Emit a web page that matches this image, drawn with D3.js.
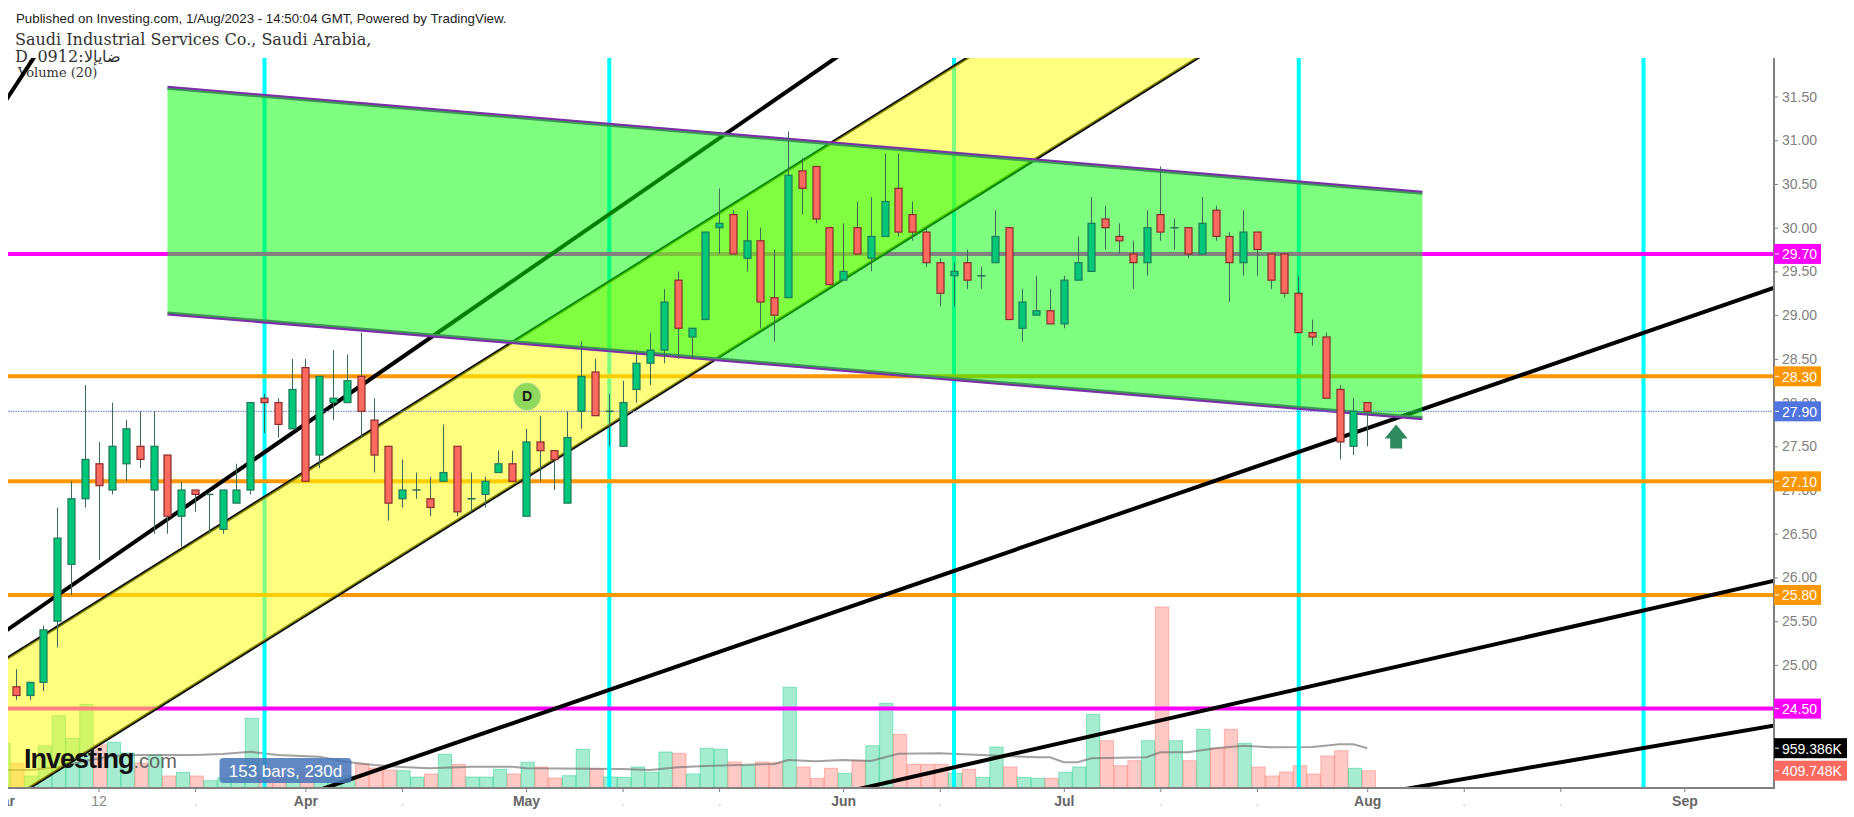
<!DOCTYPE html>
<html>
<head>
<meta charset="utf-8">
<title>Saudi Industrial Services Co.</title>
<script src="https://cdn.jsdelivr.net/npm/d3@7"></script>
<style>
	html, body { margin: 0; padding: 0; background: #fff; overflow: hidden; }
	svg { display: block; }
	text { font-family: "Liberation Sans", Arial, sans-serif; }
</style>
</head>
<body>
<div id="chart-area"></div>
<script>
// SVG size
let width = 1854,
	height = 817;

// candles, one entry per daily bar
const opens = [24.75,24.65,24.8,25.5,26.15,26.9,27.3,27.0,27.3,27.5,27.0,27.4,26.7,27.0,26.95,26.55,26.85,27.0,28.05,28.0,
	27.7,28.4,27.4,28.0,28.0,28.3,27.8,27.5,26.9,27.0,26.9,27.1,27.5,26.9,26.95,27.2,27.3,26.7,27.55,27.45,
	26.85,27.9,28.35,27.9,27.5,28.15,28.45,28.6,29.4,28.75,28.95,30.0,30.15,29.65,29.85,29.2,29.2,30.65,30.7,30.0,
	29.4,30.0,29.65,29.9,30.45,30.15,29.95,29.6,29.45,29.6,29.45,29.6,30.0,28.85,29.0,29.05,28.9,29.4,29.5,30.1,
	29.9,29.7,29.6,30.15,30.0,30.0,29.7,30.2,29.9,29.6,29.95,29.7,29.7,29.25,28.8,28.75,28.15,27.5,28.0];
const highs = [24.95,24.8,25.45,26.8,27.1,28.2,27.55,28.0,27.8,27.9,27.9,27.4,27.1,27.0,26.95,27.0,27.3,28.0,28.1,28.05,
	28.5,28.5,28.3,28.6,28.55,28.8,28.05,27.5,27.35,27.2,27.15,27.75,27.5,27.2,27.15,27.45,27.45,27.7,27.85,27.45,
	27.9,28.7,28.5,28.1,28.25,28.6,28.8,29.3,29.5,28.85,29.95,30.45,30.2,30.2,30.0,29.75,31.1,30.8,30.7,30.0,
	30.05,30.3,30.35,30.85,30.85,30.3,30.0,29.65,29.6,29.75,29.55,30.2,30.0,29.3,29.45,29.3,29.45,29.9,30.35,30.25,
	30.05,29.85,30.2,30.7,30.1,30.0,30.35,30.25,29.95,30.2,29.95,29.7,29.7,29.45,28.95,28.8,28.2,28.05,28.0];
const lows = [24.6,24.6,24.7,25.2,25.8,26.8,26.2,26.95,27.1,27.25,26.5,26.5,26.35,26.75,26.5,26.5,26.85,26.95,27.65,27.6,
	27.7,27.1,27.25,27.8,28.0,27.6,27.2,26.65,26.8,26.9,26.7,27.1,26.7,26.75,26.8,27.2,27.1,26.7,27.1,27.0,
	26.85,27.7,27.85,27.5,27.5,28.0,28.2,28.45,28.5,28.5,28.95,29.7,29.7,29.5,28.85,28.7,29.2,30.15,30.05,29.35,
	29.4,29.7,29.5,29.9,29.9,29.85,29.55,29.1,29.1,29.3,29.3,29.6,28.95,28.7,29.0,28.9,28.85,29.4,29.5,29.75,
	29.7,29.3,29.45,29.85,29.75,29.65,29.7,29.85,29.15,29.45,29.45,29.3,29.2,28.8,28.65,28.05,27.35,27.4,27.5];
const closes = [24.65,24.8,25.4,26.45,26.9,27.35,27.05,27.5,27.7,27.35,27.5,26.7,27.0,26.95,26.95,27.0,27.0,28.0,28.0,27.75,
	28.15,27.1,28.3,28.05,28.25,27.9,27.4,26.85,27.0,27.0,26.8,27.2,26.75,26.9,27.1,27.3,27.1,27.55,27.45,27.35,
	27.6,28.3,27.85,27.9,28.0,28.45,28.6,29.15,28.85,28.85,29.95,30.05,29.7,29.85,29.15,29.0,30.6,30.45,30.1,29.35,
	29.5,29.7,29.9,30.3,29.95,29.95,29.6,29.25,29.5,29.4,29.45,29.9,28.95,29.15,29.05,28.9,29.4,29.6,30.05,30.0,
	29.85,29.6,30.0,29.95,30.0,29.7,30.05,29.9,29.6,29.95,29.75,29.4,29.25,28.8,28.75,28.05,27.55,27.9,27.9];

// volume in thousands, the first one belongs to the bar just left of the plot
const volumes = [1078,590,281,1020,1752,1200,2030,1037,1103,842,598,793,281,371,281,166,232,305,1688,305,
	305,281,378,329,305,281,573,476,427,410,256,329,810,566,256,256,444,329,615,500,
	232,288,932,459,256,249,500,371,866,834,329,956,932,622,532,622,605,2445,500,224,
	468,346,664,1020,2054,1298,566,566,566,346,444,249,988,500,249,224,224,371,500,1786,
	1142,532,654,1142,4404,1142,654,1420,956,1420,1078,500,281,378,532,329,769,898,468,410];

// volume moving average, read at these bars
const maBars = [-1,1,3,5,7,9,13,15,17,19,22,24,26,28,30,33,36,37,44,46,48,50,55,56,58,60,62,64,67,70,74,75,76,77,78,82,83,85,87,89,91,94,96,97,98];
const maValues = [427,427,488,647,769,793,793,817,874,793,752,622,549,500,468,508,508,468,451,427,493,525,573,671,639,671,647,825,834,793,737,737,615,615,712,737,859,859,956,1020,981,988,1054,1054,959];

// time axis, "." is the faint mark under the unlabelled ticks
const xTickBars = [-1,6,13,21,28,37,44,51,60,67,76,83,90,98,105,112,121];
const xTickLabels = ["Mar","12",".","Apr",".","May",".",".","Jun",".","Jul",".",".","Aug",".",".","Sep"];
const monthLabels = ["Mar","Apr","May","Jun","Jul","Aug","Sep"];

// price axis
const priceTicks = [25,25.5,26,26.5,27,27.5,28,28.5,29,29.5,30,30.5,31,31.5];
const magentaLevels = [29.7,24.5];
const orangeLevels = [28.3,27.1,25.8];
const lastPrice = 27.9;
const volumeLabels = [959.386,409.748];

// cycle lines, every 25 bars
const cycleBars = [18,43,68,93,118];

// trend lines as [bar, price] pairs
const yellowUpper = [[-1,25.04],[70,32.04]];
const yellowLower = [[-2,23.30],[87,32.07]];
const greenUpper = [[11,31.6],[102,30.4]];
const greenLower = [[11,29.02],[102,27.82]];
const blackLines = [
	[[-2,25.25],[61,32.11]],
	[[20,23.46],[128,29.34]],
	[[60,23.54],[128,25.98]],
	[[100,23.56],[128,24.32]]
];
const shortLine = [[-2,31.15],[2,32.11]];

// markers
const dividendBar = 37, dividendPrice = 28.07;
const arrowBar = 100.1, arrowPrice = 27.75;

// scales
var xScale = d3.scaleLinear()
	.domain([-1, 127])
	.range([2.01, 1767.13]);

var yScale = d3.scaleLinear()
	.domain([24, 30])
	.range([752.34, 227.7]);

var volumeScale = d3.scaleLinear()
	.domain([0, 4404])
	.range([787.5, 607]);

let plotLeft = 8,
	plotTop = 58,
	plotRight = 1773,
	plotBottom = 787.5;

var line = d3.line()
	.x(d => xScale(d[0]))
	.y(d => yScale(d[1]));

let svg = d3.select("#chart-area")
	.append("svg")
	.attr("width", width)
	.attr("height", height);

svg.append("clipPath")
	.attr("id", "plot-clip")
	.append("rect")
	.attr("x", plotLeft)
	.attr("y", plotTop)
	.attr("width", plotRight - plotLeft)
	.attr("height", plotBottom - plotTop);

let plot = svg.append("g")
	.attr("clip-path", "url(#plot-clip)");

// volume bars go lowest, they sit a little right of the candles
plot.selectAll("rect.volume")
	.data(volumes)
	.enter()
	.append("rect")
	.attr("class", "volume")
	.attr("x", (d, i) => xScale(i - 1) - 5)
	.attr("y", d => volumeScale(d))
	.attr("width", 13.3)
	.attr("height", d => volumeScale(0) - volumeScale(d))
	.attr("fill", (d, i) => isUp(i - 1) ? "rgba(0,200,120,0.35)" : "rgba(255,100,90,0.35)")
	.attr("stroke", (d, i) => isUp(i - 1) ? "rgba(0,200,120,0.4)" : "rgba(255,100,90,0.4)")
	.attr("stroke-width", 1);

plot.append("path")
	.datum(maBars.map((b, i) => [b, maValues[i]]))
	.attr("d", d3.line().x(d => xScale(d[0])).y(d => volumeScale(d[1])))
	.attr("fill", "none")
	.attr("stroke", "rgba(110,110,110,0.65)")
	.attr("stroke-width", 2);

// vertical cycle lines
plot.selectAll("line.cycle")
	.data(cycleBars)
	.enter()
	.append("line")
	.attr("class", "cycle")
	.attr("x1", d => xScale(d) + 0.5)
	.attr("x2", d => xScale(d) + 0.5)
	.attr("y1", plotTop)
	.attr("y2", plotBottom)
	.attr("stroke", "#00ffff")
	.attr("stroke-width", 4);

// level lines
plot.selectAll("line.magenta")
	.data(magentaLevels)
	.enter()
	.append("line")
	.attr("class", "magenta")
	.attr("x1", plotLeft)
	.attr("x2", plotRight)
	.attr("y1", d => yScale(d))
	.attr("y2", d => yScale(d))
	.attr("stroke", "#ff00ff")
	.attr("stroke-width", 4);

plot.selectAll("line.orange")
	.data(orangeLevels)
	.enter()
	.append("line")
	.attr("class", "orange")
	.attr("x1", plotLeft)
	.attr("x2", plotRight)
	.attr("y1", d => yScale(d))
	.attr("y2", d => yScale(d))
	.attr("stroke", "#ff9800")
	.attr("stroke-width", 4);

// thick black trend lines
plot.selectAll("path.trend")
	.data(blackLines)
	.enter()
	.append("path")
	.attr("class", "trend")
	.attr("d", line)
	.attr("fill", "none")
	.attr("stroke", "#000")
	.attr("stroke-width", 4);

// channels, the half transparent fill sits over everything drawn so far
drawChannel(yellowUpper, yellowLower, "#000", "rgba(255,255,0,0.5)", 3);
drawChannel(greenUpper, greenLower, "#7b2ea8", "rgba(0,255,0,0.5)", 4);

// last price dotted line
plot.append("line")
	.attr("x1", plotLeft)
	.attr("x2", plotRight)
	.attr("y1", yScale(lastPrice))
	.attr("y2", yScale(lastPrice))
	.attr("stroke", "#5b7be0")
	.attr("stroke-width", 1)
	.attr("stroke-dasharray", "1.5 1");

// dividend marker
let dividend = plot.append("g")
	.attr("transform", "translate(" + (xScale(dividendBar) + 1) + "," + yScale(dividendPrice) + ")");
dividend.append("circle")
	.attr("r", 13.5)
	.attr("fill", "#8ed95c")
	.attr("stroke", "#a9dc80")
	.attr("stroke-width", 1);
dividend.append("text")
	.text("D")
	.attr("y", 5)
	.attr("text-anchor", "middle")
	.style("font-size", "14px")
	.style("font-weight", "bold")
	.attr("fill", "#1a1a1a");

// candles
opens.forEach((o, i) => {
	let g = plot.append("g")
		.attr("transform", "translate(" + (Math.round(xScale(i)) + 0.5) + ",0)");

	g.append("line")
		.attr("y1", yScale(highs[i]))
		.attr("y2", yScale(lows[i]))
		.attr("stroke", "#3c6b5a")
		.attr("stroke-width", 1);

	if (o == closes[i]) {
		g.append("line")
			.attr("x1", -4)
			.attr("x2", 4)
			.attr("y1", yScale(o))
			.attr("y2", yScale(o))
			.attr("stroke", "#2f6b55")
			.attr("stroke-width", 1.5);
	} else {
		g.append("rect")
			.attr("x", -3.5)
			.attr("y", yScale(Math.max(o, closes[i])))
			.attr("width", 7)
			.attr("height", Math.abs(yScale(o) - yScale(closes[i])))
			.attr("fill", isUp(i) ? "#00c878" : "#ff6a60")
			.attr("stroke", isUp(i) ? "#1f7a5a" : "#8a2a2a")
			.attr("stroke-width", 1.2);
	}
});

// arrow under the trend line
plot.append("path")
	.attr("transform", "translate(" + xScale(arrowBar) + "," + yScale(arrowPrice) + ")")
	.attr("d", "M0,0 L11.5,14 L6,14 L6,24 L-6,24 L-6,14 L-11.5,14 Z")
	.attr("fill", "#2f8a60");

// axes
let xAxis = d3.axisBottom()
	.scale(xScale)
	.tickValues(xTickBars)
	.tickSize(4)
	.tickFormat((d, i) => xTickLabels[i]);

let yAxis = d3.axisRight()
	.scale(yScale)
	.tickValues(priceTicks)
	.tickSize(4)
	.tickFormat(d3.format(".2f"));

svg.append("clipPath")
	.attr("id", "x-clip")
	.append("rect")
	.attr("x", plotLeft)
	.attr("y", plotBottom)
	.attr("width", plotRight - plotLeft)
	.attr("height", height - plotBottom);

let gx = svg.append("g")
	.attr("clip-path", "url(#x-clip)")
	.append("g")
	.attr("class", "axis x-axis")
	.attr("transform", "translate(0," + 788 + ")")
	.call(xAxis);
gx.select(".domain").remove();
gx.selectAll("line").attr("stroke", "#808080");
gx.selectAll("text")
	.attr("y", 8)
	.style("font-size", "14px")
	.style("font-weight", (d, i) => monthLabels.includes(xTickLabels[i]) ? "bold" : "normal")
	.attr("fill", (d, i) => monthLabels.includes(xTickLabels[i]) ? "#666" : (xTickLabels[i] == "." ? "#ccc" : "#888"));

let gy = svg.append("g")
	.attr("class", "axis y-axis")
	.attr("transform", "translate(" + 1774 + ",0)")
	.call(yAxis);
gy.select(".domain").remove();
gy.selectAll("line").attr("stroke", "#808080");
gy.selectAll("text")
	.attr("x", 8)
	.style("font-size", "14px")
	.attr("fill", "#808080");

svg.append("line")
	.attr("x1", plotLeft)
	.attr("x2", 1774.5)
	.attr("y1", 788)
	.attr("y2", 788)
	.attr("stroke", "#808080")
	.attr("stroke-width", 2);
svg.append("line")
	.attr("x1", 1774)
	.attr("x2", 1774)
	.attr("y1", plotTop)
	.attr("y2", 789)
	.attr("stroke", "#808080")
	.attr("stroke-width", 2);

// boxes on the right axis
magentaLevels.forEach(d => axisBox(yScale(d), d3.format(".2f")(d), "#ff00ff", 47));
orangeLevels.forEach(d => axisBox(yScale(d), d3.format(".2f")(d), "#ff9800", 47));
axisBox(yScale(lastPrice), d3.format(".2f")(lastPrice), "#4f74e0", 47);
axisBox(volumeScale(volumeLabels[0]), d3.format(".3f")(volumeLabels[0]) + "K", "#000", 73);
axisBox(volumeScale(volumeLabels[1]), d3.format(".3f")(volumeLabels[1]) + "K", "#ff6a60", 73);

// headers
svg.append("text")
	.text("Published on Investing.com, 1/Aug/2023 - 14:50:04 GMT, Powered by TradingView.")
	.attr("x", 16)
	.attr("y", 23)
	.style("font-size", "13.3px")
	.attr("fill", "#222");

svg.append("text")
	.text("Saudi Industrial Services Co., Saudi Arabia,")
	.attr("x", 15)
	.attr("y", 45)
	.style("font-family", "'DejaVu Serif', serif")
	.style("font-size", "16px")
	.attr("fill", "#333");

svg.append("text")
	.text("D, 0912:ضايإلا")
	.attr("x", 15)
	.attr("y", 62)
	.style("font-family", "'DejaVu Serif', serif")
	.style("font-size", "16px")
	.attr("fill", "#333");

svg.append("text")
	.text("Volume (20)")
	.attr("x", 18)
	.attr("y", 77)
	.style("font-family", "'DejaVu Serif', serif")
	.style("font-size", "13px")
	.attr("fill", "#333");

// the short black line crosses over the legend
svg.append("path")
	.attr("clip-path", "url(#plot-clip)")
	.attr("d", line(shortLine))
	.attr("fill", "none")
	.attr("stroke", "#000")
	.attr("stroke-width", 4);

// bar count label
let barCount = svg.append("g");
barCount.append("rect")
	.attr("x", 219.5)
	.attr("y", 758)
	.attr("width", 132)
	.attr("height", 25)
	.attr("rx", 4)
	.attr("fill", "rgba(70,115,185,0.85)");
barCount.append("text")
	.text("153 bars, 230d")
	.attr("x", 285.5)
	.attr("y", 776.5)
	.attr("text-anchor", "middle")
	.style("font-size", "17px")
	.attr("fill", "#fff");

// watermark
let logo = svg.append("text")
	.attr("x", 24)
	.attr("y", 768);
logo.append("tspan")
	.text("Investing")
	.style("font-size", "27px")
	.style("font-weight", "bold")
	.style("letter-spacing", "-1px")
	.attr("fill", "#111");
logo.append("tspan")
	.text(".com")
	.style("font-size", "20px")
	.attr("fill", "#666");

function isUp(i) {
	// bar left of the plot has no candle, it was an up day
	if (i < 0) return true;
	return closes[i] >= opens[i];
}

function drawChannel(upper, lower, edge, fill, edgeWidth) {
	plot.selectAll(null)
		.data([upper, lower])
		.enter()
		.append("path")
		.attr("d", line)
		.attr("fill", "none")
		.attr("stroke", edge)
		.attr("stroke-width", edgeWidth);

	plot.append("path")
		.attr("d", line(upper.concat(lower.slice().reverse())) + "Z")
		.attr("fill", fill);
}

function axisBox(y, label, color, w) {
	svg.append("rect")
		.attr("x", 1774)
		.attr("y", y - 10)
		.attr("width", w)
		.attr("height", 20)
		.attr("fill", color);
	svg.append("line")
		.attr("x1", 1775)
		.attr("x2", 1779)
		.attr("y1", y)
		.attr("y2", y)
		.attr("stroke", "#fff");
	svg.append("text")
		.text(label)
		.attr("x", 1782)
		.attr("y", y + 5.5)
		.style("font-size", "14px")
		.attr("fill", "#fff");
}
</script>
</body>
</html>
